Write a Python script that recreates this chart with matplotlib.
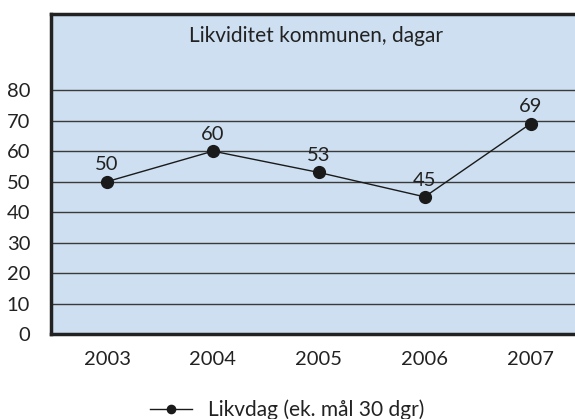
import matplotlib
matplotlib.use("Agg")
import matplotlib.pyplot as plt

years = ["2003", "2004", "2005", "2006", "2007"]
likvdag = [50, 60, 53, 45, 69]
yticks = [0, 10, 20, 30, 40, 50, 60, 70, 80]
title = "Likviditet kommunen, dagar"
series_label = "Likvdag (ek. mål 30 dgr)"

plt.rcParams['font.family'] = ['Lato', 'DejaVu Sans']

fig = plt.figure(figsize=(5.75, 4.19), dpi=100)
ax = fig.add_axes([0.0887, 0.2029, 0.9113, 0.7637])
ax.set_facecolor('#cddff0')

x = list(range(len(years)))
line, = ax.plot(x, likvdag, color='#1a1a1a', lw=1.0, marker='o', ms=8.5,
                markerfacecolor='#1a1a1a', markeredgecolor='#1a1a1a',
                label=series_label, zorder=3)
for xi, v in zip(x, likvdag):
    ax.annotate(str(v), (xi, v), xytext=(0, 6), textcoords='offset points',
                ha='center', va='bottom', fontsize=14.5, color='#222222')

ax.set_ylim(0, 105)
ax.set_xlim(-0.53, 4.42)
ax.set_yticks(yticks)
ax.set_yticklabels([str(t) for t in yticks])
ax.set_xticks(x)
ax.set_xticklabels(years)
ax.tick_params(axis='both', length=0, labelsize=14.5, colors='#222222')
ax.tick_params(axis='y', pad=15)
ax.tick_params(axis='x', pad=12)
ax.yaxis.grid(True, color='#3a3a3a', lw=1.0)
ax.set_axisbelow(True)

for s in ['left', 'top', 'bottom']:
    ax.spines[s].set_linewidth(2.5)
    ax.spines[s].set_color('#222222')
ax.spines['right'].set_visible(False)

ax.text(0.505, 0.93, title, transform=ax.transAxes, ha='center', va='center',
        fontsize=15, color='#222222')

fig.legend(handles=[line], loc='center', bbox_to_anchor=(0.5, 0.022),
           frameon=False, fontsize=15, handlelength=2.0, markerscale=0.7,
           labelcolor='#222222')

fig.savefig('out.png', dpi=100)
